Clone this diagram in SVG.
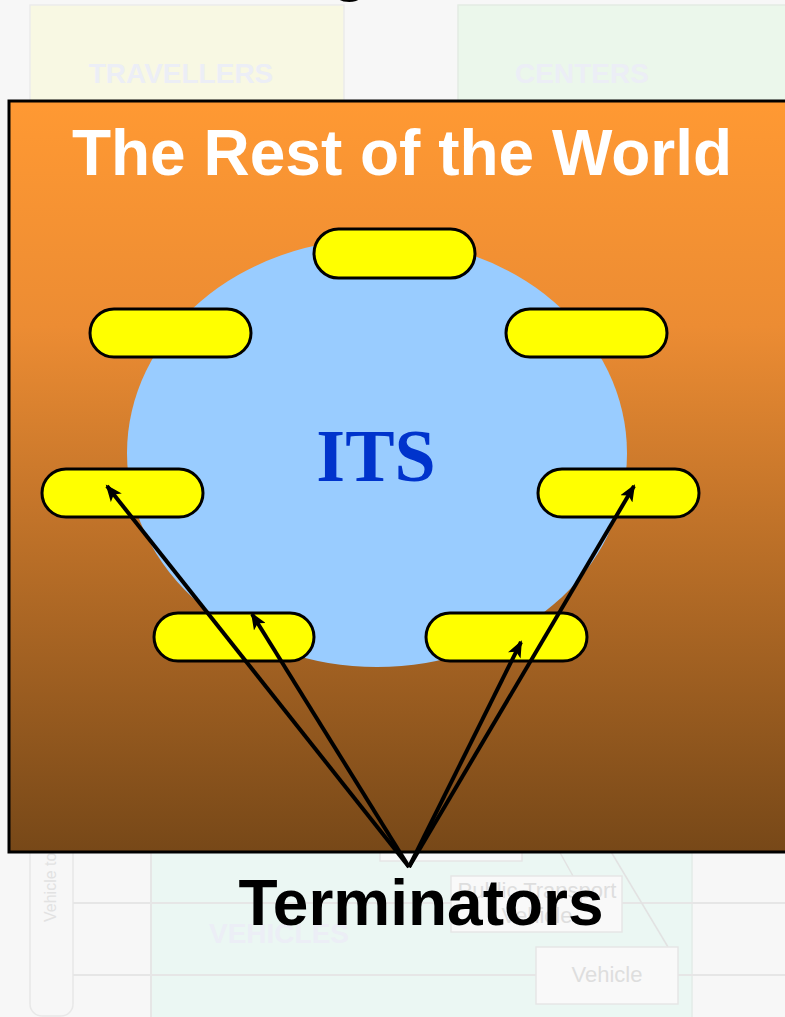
<svg xmlns="http://www.w3.org/2000/svg" width="785" height="1017" viewBox="0 0 785 1017">
<style>
.faint{font-family:"Liberation Sans",Arial,sans-serif;font-weight:bold;font-size:28px;fill:#eceef6;text-anchor:middle}
.faintsm{font-family:"Liberation Sans",Arial,sans-serif;font-size:22px;fill:#dedede;text-anchor:middle}
.fbox{fill:#f9f9f9;stroke:#e6e6e6;stroke-width:1.5}
.fline{stroke:#e6e6e6;stroke-width:2;fill:none}
.pill{fill:#ffff00;stroke:#000;stroke-width:3}
.conn{stroke:#000;stroke-width:4;fill:none;marker-end:url(#ah)}
</style>
<defs>
<linearGradient id="world" x1="0" y1="0" x2="0" y2="1">
<stop offset="0" stop-color="#ff9933"/>
<stop offset="0.3" stop-color="#ec8c33"/>
<stop offset="1" stop-color="#774818"/>
</linearGradient>
<marker id="ah" markerUnits="userSpaceOnUse" markerWidth="18" markerHeight="14" viewBox="0 0 18 14" refX="15" refY="7" orient="auto">
<path d="M0,0 L17,7 L0,14 L4,7 z" fill="#000"/>
</marker>
</defs>
<rect width="785" height="1017" fill="#f7f7f7"/>
<g id="background-diagram">
<text x="350" y="-11" style="font-family:'Liberation Sans',Arial,sans-serif;font-weight:bold;font-size:64px;text-anchor:middle" fill="#000">g</text>
<rect x="30" y="5" width="314" height="120" fill="#f8f8e3" stroke="#ebebeb" stroke-width="1.5"/>
<rect x="458" y="5" width="340" height="120" fill="#ebf7eb" stroke="#e4ece4" stroke-width="1.5"/>
<text class="faint" x="181" y="83">TRAVELLERS</text>
<text class="faint" x="582" y="83">CENTERS</text>
<rect x="151" y="800" width="541" height="240" fill="#ebf7f3" stroke="#e3ece8" stroke-width="1.5"/>
<rect x="30" y="780" width="43" height="236" rx="12" fill="#f7f7f7" stroke="#e8e8e8" stroke-width="1.5"/>
<text x="56" y="922" transform="rotate(-90 56 922)" style="font-family:'Liberation Sans',Arial,sans-serif;font-size:16px" fill="#e2e2e2">Vehicle to</text>
<line class="fline" x1="73" y1="903" x2="785" y2="903"/>
<line class="fline" x1="73" y1="975" x2="785" y2="975"/>
<line class="fline" x1="151" y1="850" x2="151" y2="1017"/>
<text class="faint" x="279" y="943">VEHICLES</text>
<line x1="553" y1="840" x2="573" y2="876" stroke="#e2e2e2" stroke-width="1.5"/>
<line x1="604" y1="840" x2="668" y2="947" stroke="#e2e2e2" stroke-width="1.5"/>
<rect class="fbox" x="380" y="790" width="142" height="71"/>
<rect class="fbox" x="451" y="876" width="171" height="56"/>
<text class="faintsm" x="537" y="898">Public Transport</text>
<text class="faintsm" x="537" y="923">Vehicle</text>
<rect class="fbox" x="536" y="947" width="142" height="57"/>
<text class="faintsm" x="607" y="982">Vehicle</text>
</g>
<g id="rest-of-world">
<rect x="9" y="101" width="800" height="751" fill="url(#world)" stroke="#000" stroke-width="3"/>
<text x="402" y="175" style="font-family:'Liberation Sans',Arial,sans-serif;font-weight:bold;font-size:64px;text-anchor:middle" fill="#fff">The Rest of the World</text>
</g>
<g id="its">
<ellipse cx="377" cy="453" rx="250" ry="214" fill="#99ccff"/>
<text x="376" y="481" style="font-family:'Liberation Serif','Times New Roman',serif;font-weight:bold;font-size:74px;text-anchor:middle" fill="#0033cc">ITS</text>
</g>
<g id="terminator-top"><rect class="pill" x="314" y="229" width="161" height="49" rx="24.5"/></g>
<g id="terminator-upper-left"><rect class="pill" x="90" y="309" width="161" height="48" rx="24"/></g>
<g id="terminator-upper-right"><rect class="pill" x="506" y="309" width="161" height="48" rx="24"/></g>
<g id="terminator-mid-left"><rect class="pill" x="42" y="469" width="161" height="48" rx="24"/></g>
<g id="terminator-mid-right"><rect class="pill" x="538" y="469" width="161" height="48" rx="24"/></g>
<g id="terminator-low-left"><rect class="pill" x="154" y="613" width="160" height="48" rx="24"/></g>
<g id="terminator-low-right"><rect class="pill" x="426" y="613" width="161" height="48" rx="24"/></g>
<g id="connectors">
<line class="conn" x1="409" y1="867" x2="107" y2="486"/>
<line class="conn" x1="409" y1="867" x2="252" y2="614"/>
<line class="conn" x1="409" y1="867" x2="521" y2="642"/>
<line class="conn" x1="409" y1="867" x2="634" y2="486"/>
</g>
<g id="terminators-label">
<text x="421" y="925" style="font-family:'Liberation Sans',Arial,sans-serif;font-weight:bold;font-size:64px;text-anchor:middle" fill="#000">Terminators</text>
</g>
</svg>
